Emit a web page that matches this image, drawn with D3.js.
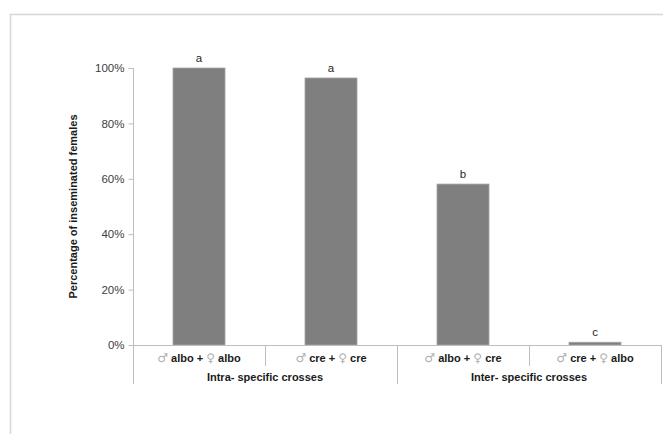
<!DOCTYPE html>
<html>
<head>
<meta charset="utf-8">
<script src="https://d3js.org/d3.v7.min.js"></script>
<style>
  html, body { margin: 0; padding: 0; background: #fff; }
  svg { display: block; }
  text { font-family: Arial, "Liberation Sans", sans-serif; }
</style>
</head>
<body>
<script>
// ---- data ----
const categories = ["albo|albo", "cre|cre", "albo|cre", "cre|albo"];
const males = ["albo", "cre", "albo", "cre"];
const females = ["albo", "cre", "cre", "albo"];
const values = [1.00, 0.964, 0.581, 0.01];
const letters = ["a", "a", "b", "c"];
const groups = ["Intra- specific crosses", "Inter- specific crosses"];
const groupSpan = [[0, 1], [2, 3]];
const yTicks = [0, 0.2, 0.4, 0.6, 0.8, 1.0];
const yLabel = "Percentage of inseminated females";

// ---- layout ----
const W = 663, H = 434;
const svg = d3.select("body").append("svg").attr("width", W).attr("height", H);

// outer frame
svg.append("rect")
  .attr("x", 10.5).attr("y", 14.5)
  .attr("width", 700).attr("height", 500)
  .attr("fill", "none").attr("stroke", "#d6d6d6").attr("stroke-width", 1.5);

const x0 = 133, x1 = 661, yTop = 68, yBot = 345;
const x = d3.scaleBand().domain(categories).range([x0, x1])
  .paddingInner(0.606).paddingOuter(0.303);
const y = d3.scaleLinear().domain([0, 1]).range([yBot, yTop]);
const step = x.step();

// y axis
const yAxis = d3.axisLeft(y).tickValues(yTicks).tickFormat(d3.format(".0%")).tickSize(5).tickPadding(4);
const gy = svg.append("g").attr("transform", `translate(${x0 + 0.5},0)`).call(yAxis);
gy.select(".domain").attr("stroke", "#bdbdbd").attr("d", `M-5,${yTop + 0.5}H0V${yBot + 0.5}`);
gy.selectAll(".tick line").attr("stroke", "#bdbdbd");
gy.selectAll(".tick text").attr("fill", "#404040").style("font-size", "11.5px");

// bars
svg.selectAll("rect.bar").data(categories).enter().append("rect")
  .attr("class", "bar")
  .attr("x", d => x(d))
  .attr("width", x.bandwidth())
  .attr("y", (d, i) => y(values[i]))
  .attr("height", (d, i) => yBot - y(values[i]))
  .attr("fill", "#7f7f7f")
  .attr("stroke", "#a6a6a6").attr("stroke-width", 0.8);

// significance letters
svg.selectAll("text.let").data(categories).enter().append("text")
  .attr("class", "let")
  .attr("x", d => x(d) + x.bandwidth() / 2)
  .attr("y", (d, i) => y(values[i]) - 6)
  .attr("text-anchor", "middle")
  .attr("fill", "#262626")
  .style("font-size", "11.5px")
  .text((d, i) => letters[i]);

// x axis line
svg.append("line")
  .attr("x1", x0).attr("x2", x1)
  .attr("y1", yBot + 0.5).attr("y2", yBot + 0.5)
  .attr("stroke", "#bdbdbd").attr("stroke-width", 1);

// separators
const bounds = d3.range(categories.length + 1).map(i => x0 + i * step);
svg.selectAll("line.sep").data(bounds).enter().append("line")
  .attr("class", "sep")
  .attr("x1", d => Math.round(d) + 0.5).attr("x2", d => Math.round(d) + 0.5)
  .attr("y1", yBot)
  .attr("y2", (d, i) => (i % 2 === 0 ? 384 : 366))
  .attr("stroke", "#bdbdbd").attr("stroke-width", 1);

// category labels
const cl = svg.selectAll("text.cat").data(categories).enter().append("text")
  .attr("class", "cat")
  .attr("x", d => x(d) + x.bandwidth() / 2)
  .attr("y", 362)
  .attr("text-anchor", "middle")
  .style("font-size", "11px");
cl.append("tspan").attr("fill", "#b0b0b0").style("font-family", "'DejaVu Sans'").style("font-size", "12px").text("\u2642");
cl.append("tspan").attr("fill", "#1a1a1a").attr("font-weight", "bold").text((d, i) => " " + males[i] + " + ");
cl.append("tspan").attr("fill", "#b0b0b0").style("font-family", "'DejaVu Sans'").style("font-size", "12px").text("\u2640");
cl.append("tspan").attr("fill", "#1a1a1a").attr("font-weight", "bold").text((d, i) => " " + females[i]);

// group labels
svg.selectAll("text.grp").data(groups).enter().append("text")
  .attr("class", "grp")
  .attr("x", (d, i) => (x(categories[groupSpan[i][0]]) + x(categories[groupSpan[i][1]]) + x.bandwidth()) / 2)
  .attr("y", 381)
  .attr("text-anchor", "middle")
  .attr("fill", "#1a1a1a")
  .attr("font-weight", "bold")
  .style("font-size", "11px")
  .text(d => d);

// y label
svg.append("text")
  .attr("transform", `translate(77,${(yTop + yBot) / 2}) rotate(-90)`)
  .attr("text-anchor", "middle")
  .attr("fill", "#1a1a1a")
  .attr("font-weight", "bold")
  .style("font-size", "11px")
  .text(yLabel);
</script>
</body>
</html>
